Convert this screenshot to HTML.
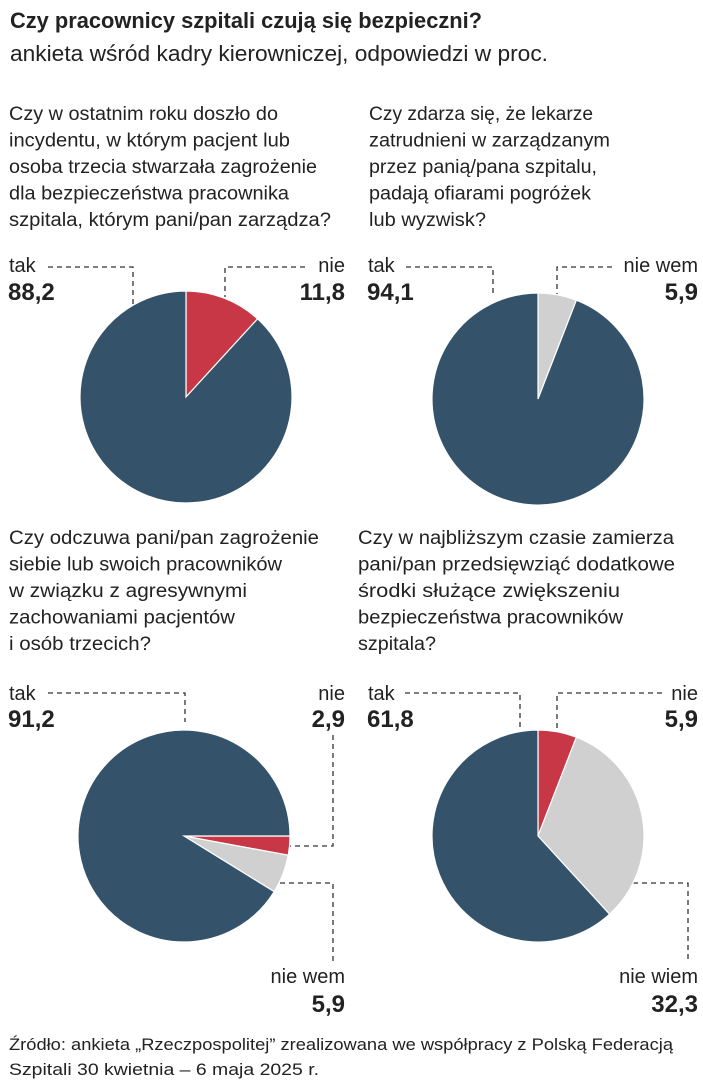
<!DOCTYPE html>
<html><head><meta charset="utf-8"><style>
body{margin:0;background:#fff}
svg{display:block}
text{font-family:"Liberation Sans Narrow","Liberation Sans",sans-serif;fill:#222}
.q{font-size:19px}
.lab{font-size:20px}
.num{font-size:24px;font-weight:bold}
.ld{stroke:#333;stroke-width:1.3;stroke-dasharray:5,4;fill:none}
</style></head><body>
<svg id="c" width="703" height="1080">
<text x="10" y="28" font-size="22" font-weight="bold" textLength="472" lengthAdjust="spacingAndGlyphs">Czy pracownicy szpitali czują się bezpieczni?</text>
<text x="10" y="61" font-size="22" textLength="538" lengthAdjust="spacingAndGlyphs">ankieta wśród kadry kierowniczej, odpowiedzi w proc.</text>
<g>
<text class="q" x="9" y="120" textLength="269" lengthAdjust="spacingAndGlyphs">Czy w ostatnim roku doszło do</text>
<text class="q" x="9" y="146.5" textLength="281" lengthAdjust="spacingAndGlyphs">incydentu, w którym pacjent lub</text>
<text class="q" x="9" y="173" textLength="308" lengthAdjust="spacingAndGlyphs">osoba trzecia stwarzała zagrożenie</text>
<text class="q" x="9" y="199.5" textLength="280" lengthAdjust="spacingAndGlyphs">dla bezpieczeństwa pracownika</text>
<text class="q" x="9" y="226" textLength="322" lengthAdjust="spacingAndGlyphs">szpitala, którym pani/pan zarządza?</text>
</g>
<g>
<text class="q" x="369" y="120" textLength="224" lengthAdjust="spacingAndGlyphs">Czy zdarza się, że lekarze</text>
<text class="q" x="369" y="146.5" textLength="241" lengthAdjust="spacingAndGlyphs">zatrudnieni w zarządzanym</text>
<text class="q" x="369" y="173" textLength="228" lengthAdjust="spacingAndGlyphs">przez panią/pana szpitalu,</text>
<text class="q" x="369" y="199.5" textLength="222" lengthAdjust="spacingAndGlyphs">padają ofiarami pogróżek</text>
<text class="q" x="369" y="226" textLength="117" lengthAdjust="spacingAndGlyphs">lub wyzwisk?</text>
</g>
<g>
<text class="q" x="9" y="544" textLength="310" lengthAdjust="spacingAndGlyphs">Czy odczuwa pani/pan zagrożenie</text>
<text class="q" x="9" y="570.5" textLength="273" lengthAdjust="spacingAndGlyphs">siebie lub swoich pracowników</text>
<text class="q" x="9" y="597" textLength="238" lengthAdjust="spacingAndGlyphs">w związku z agresywnymi</text>
<text class="q" x="9" y="623.5" textLength="226" lengthAdjust="spacingAndGlyphs">zachowaniami pacjentów</text>
<text class="q" x="9" y="650" textLength="142" lengthAdjust="spacingAndGlyphs">i osób trzecich?</text>
</g>
<g>
<text class="q" x="358" y="544" textLength="316" lengthAdjust="spacingAndGlyphs">Czy w najbliższym czasie zamierza</text>
<text class="q" x="358" y="570.5" textLength="317" lengthAdjust="spacingAndGlyphs">pani/pan przedsięwziąć dodatkowe</text>
<text class="q" x="358" y="597" textLength="262" lengthAdjust="spacingAndGlyphs">środki służące zwiększeniu</text>
<text class="q" x="358" y="623.5" textLength="265" lengthAdjust="spacingAndGlyphs">bezpieczeństwa pracowników</text>
<text class="q" x="358" y="650" textLength="78" lengthAdjust="spacingAndGlyphs">szpitala?</text>
</g>

<!-- leader lines -->
<path class="ld" d="M48 267H133V305"/>
<path class="ld" d="M305 267H225V297"/>
<path class="ld" d="M406 267H493V296"/>
<path class="ld" d="M612 267H557V297"/>
<path class="ld" d="M48 693H185V722"/>
<path class="ld" d="M333 735V846H290"/>
<path class="ld" d="M280 883H333V961"/>
<path class="ld" d="M405 693H520V730"/>
<path class="ld" d="M662 693H557V728"/>
<path class="ld" d="M633 883H688V961"/>

<g>
<text class="lab" x="9" y="272">tak</text><text class="num" x="8" y="300">88,2</text>
<text class="lab" x="345" y="272" text-anchor="end">nie</text><text class="num" x="345" y="300" text-anchor="end">11,8</text>
<text class="lab" x="368" y="272">tak</text><text class="num" x="367" y="300">94,1</text>
<text class="lab" x="698" y="272" text-anchor="end">nie wem</text><text class="num" x="698" y="300" text-anchor="end">5,9</text>
<text class="lab" x="9" y="700">tak</text><text class="num" x="8" y="727">91,2</text>
<text class="lab" x="345" y="700" text-anchor="end">nie</text><text class="num" x="345" y="727" text-anchor="end">2,9</text>
<text class="lab" x="345" y="983" text-anchor="end">nie wem</text><text class="num" x="345" y="1012" text-anchor="end">5,9</text>
<text class="lab" x="368" y="700">tak</text><text class="num" x="367" y="727">61,8</text>
<text class="lab" x="698" y="700" text-anchor="end">nie</text><text class="num" x="698" y="727" text-anchor="end">5,9</text>
<text class="lab" x="698" y="983" text-anchor="end">nie wiem</text><text class="num" x="698" y="1012" text-anchor="end">32,3</text>
</g>
<text x="9" y="1050" font-size="17" textLength="664" lengthAdjust="spacingAndGlyphs">Źródło: ankieta „Rzeczpospolitej” zrealizowana we współpracy z Polską Federacją</text>
<text x="9" y="1075" font-size="17" textLength="310" lengthAdjust="spacingAndGlyphs">Szpitali  30 kwietnia – 6 maja 2025 r.</text>
<g id="pies"></g>
</svg>
<script>
// order of slices clockwise: nie, nie wiem, tak
const categories = ["nie", "nie wiem", "tak"];
const pie1 = [11.8, 0, 88.2];
const pie2 = [0, 5.9, 94.1];
const pie3 = [2.9, 5.9, 91.2];
const pie4 = [5.9, 32.3, 61.8];
const colors = ["#c83746", "#d0d0d0", "#34536b"];
const NS = "http://www.w3.org/2000/svg";
const g = document.getElementById("pies");
function ang(a){ return (a - 90) * Math.PI / 180; }
function drawPie(vals, cx, cy, r, start, name){
  const total = vals.reduce((s, v) => s + v, 0);
  let a = start;
  vals.forEach((v, i) => {
    if (v <= 0) return;
    const sweep = v / total * 360;
    const a1 = a + sweep;
    const x0 = cx + r * Math.cos(ang(a)), y0 = cy + r * Math.sin(ang(a));
    const x1 = cx + r * Math.cos(ang(a1)), y1 = cy + r * Math.sin(ang(a1));
    const p = document.createElementNS(NS, "path");
    p.setAttribute("d", `M${cx} ${cy}L${x0} ${y0}A${r} ${r} 0 ${sweep > 180 ? 1 : 0} 1 ${x1} ${y1}Z`);
    p.setAttribute("fill", colors[i]);
    p.setAttribute("stroke", "#fff");
    p.setAttribute("stroke-width", "1.2");
    
    
    g.appendChild(p);
    a = a1;
  });
}
drawPie(pie1, 186, 397, 106, 0, "pie-1");
drawPie(pie2, 538, 399, 106, 0, "pie-2");
drawPie(pie3, 184, 836, 106, 90, "pie-3");
drawPie(pie4, 538, 836, 106, 0, "pie-4");
</script>
</body></html>
